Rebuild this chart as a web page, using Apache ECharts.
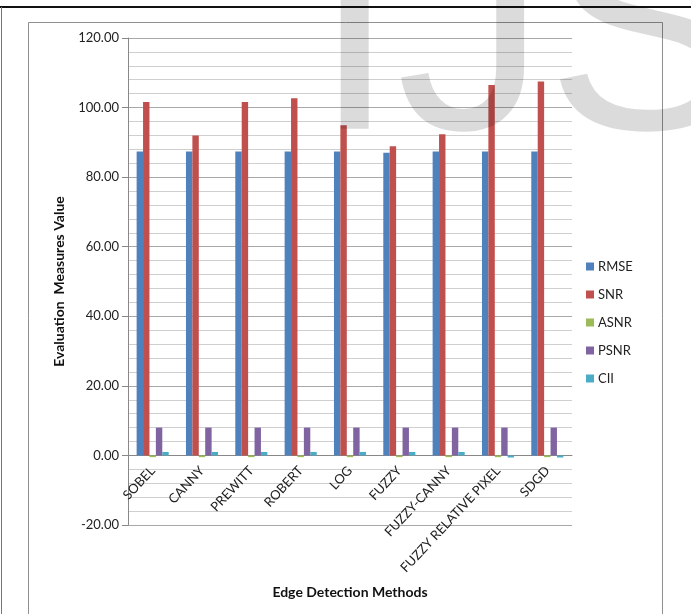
<!DOCTYPE html>
<html>
<head>
<meta charset="utf-8">
<script src="https://cdn.jsdelivr.net/npm/echarts@6/dist/echarts.min.js"></script>
<style>
html,body{margin:0;padding:0;background:#fff;}
#chart{width:691px;height:614px;}
</style>
</head>
<body>
<div id="chart"></div>
<script>
var categories = ['SOBEL','CANNY','PREWITT','ROBERT','LOG','FUZZY','FUZZY-CANNY','FUZZY RELATIVE PIXEL','SDGD'];
var rmse = [87.4, 87.4, 87.4, 87.4, 87.4, 87.0, 87.4, 87.4, 87.4];
var snr  = [101.6, 92.0, 101.6, 102.7, 94.9, 88.9, 92.3, 106.5, 107.5];
var asnr = [-0.5, -0.5, -0.5, -0.5, -0.5, -0.5, -0.5, -0.5, -0.5];
var psnr = [8.0, 8.0, 8.0, 8.0, 8.0, 8.0, 8.0, 8.0, 8.0];
var cii  = [1.0, 1.0, 1.0, 1.0, 1.0, 1.0, 1.0, -0.6, -0.6];
var seriesNames = ['RMSE','SNR','ASNR','PSNR','CII'];
var seriesData = [rmse, snr, asnr, psnr, cii];
var colors = ['#4f81bd','#c0504d','#9bbb59','#8064a2','#4bacc6'];

var FONT = 'Lato';
var chart = echarts.init(document.getElementById('chart'), null, {renderer:'canvas'});
var option = {
  animation: false,
  backgroundColor: '#fff',
  color: colors,
  textStyle: {fontFamily: FONT},
  grid: {left: 128, right: 119, top: 38, bottom: 89, containLabel: false, outerBoundsMode: 'none'},
  legend: {
    orient: 'vertical', left: 581, top: 255,
    icon: 'rect', itemWidth: 8, itemHeight: 8, itemGap: 15,
    textStyle: {fontFamily: FONT, fontSize: 13, color: '#222', padding: [0,0,0,-1]},
    data: seriesNames
  },
  xAxis: {
    type: 'category',
    data: categories,
    offset: -69.6,
    name: 'Edge Detection Methods',
    nameLocation: 'middle',
    nameGap: 130,
    nameTextStyle: {fontFamily: FONT, fontSize: 14, fontWeight: 'bold', color: '#111'},
    axisLine: {show: true, onZero: false, lineStyle: {color: '#888', width: 1}},
    axisTick: {show: false},
    axisLabel: {rotate: 47, fontFamily: FONT, fontSize: 13, color: '#222', margin: 13, interval: 0}
  },
  yAxis: {
    type: 'value',
    min: -20, max: 120, interval: 20,
    name: 'Evaluation  Measures Value',
    nameLocation: 'middle',
    nameGap: 62,
    nameTextStyle: {fontFamily: FONT, fontSize: 14, fontWeight: 'bold', color: '#111'},
    axisLine: {show: true, lineStyle: {color: '#888'}},
    axisTick: {show: true, inside: false, length: 6, lineStyle: {color: '#888'}},
    axisLabel: {fontFamily: FONT, fontSize: 13, color: '#222', margin: 9,
      formatter: function(v){ return v.toFixed(2); }},
    splitLine: {show: true, lineStyle: {color: '#a8a8a8', width: 1}},
    minorTick: {show: false, splitNumber: 5},
    minorSplitLine: {show: true, lineStyle: {color: '#cfcfcf', width: 1}}
  },
  series: seriesNames.map(function(n, i){
    return {
      name: n, type: 'bar', data: seriesData[i],
      barGap: '0%', barCategoryGap: '35%',
      itemStyle: {color: colors[i]}
    };
  }),
  graphic: [
    {type: 'rect', shape: {x: 0, y: 6, width: 691, height: 2}, style: {fill: '#111'}, z: 100},
    {type: 'rect', shape: {x: 1, y: 7, width: 1, height: 607}, style: {fill: '#777'}, z: 100},
    {type: 'rect', shape: {x: 28.5, y: 22.5, width: 634, height: 600}, style: {fill: 'none', stroke: '#909090', lineWidth: 1}, z: 100},
    {type: 'text', left: 313, top: -104, z: 200, silent: true,
      style: {text: 'IJS', font: '300px "Liberation Sans"', fill: 'rgba(0,0,0,0.14)'}}
  ]
};
chart.setOption(option);
</script>
</body>
</html>
